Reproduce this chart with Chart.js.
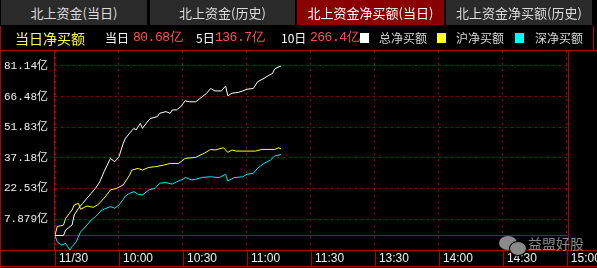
<!DOCTYPE html>
<html>
<head>
<meta charset="utf-8">
<script src="https://cdn.jsdelivr.net/npm/chart.js@4/dist/chart.umd.min.js"></script>
<style>
  html, body { margin: 0; padding: 0; background: #000; }
  #wrap { position: relative; width: 597px; height: 268px; overflow: hidden; background: #000;
          font-family: "Noto Sans CJK SC", sans-serif; }
  canvas { position: absolute; left: 0; top: 0; }
  .tab { position: absolute; top: 0; height: 25px; line-height: 25px; text-align: center;
         background: #2a2a2a; color: #dcdcdc; font-size: 13px; }
  .tab.on { background: #8a0000; color: #fff; }
  .lg { position: absolute; top: 30px; line-height: 16px; font-size: 12px; color: #fff; white-space: nowrap; }
  .num { font-family: "Liberation Mono", monospace; font-size: 13px; letter-spacing: -0.5px; color: #ff5050; }
  .sq { position: absolute; top: 33px; width: 9px; height: 10px; }
  .wm { position: absolute; left: 528px; top: 234px; font-size: 14px; color: #8a8a8a; line-height: 18px; z-index: 2; }
  .bub { position: absolute; border-radius: 50%; background: #8a8a8a; z-index: 2; }
</style>
</head>
<body>
<div id="wrap">
  <canvas id="c" width="597" height="268"></canvas>

  <div class="tab" style="left:1px;width:146px">北上资金(当日)</div>
  <div class="tab" style="left:150px;width:145px">北上资金(历史)</div>
  <div class="tab on" style="left:297px;width:147px">北上资金净买额(当日)</div>
  <div class="tab" style="left:446px;width:146px">北上资金净买额(历史)</div>

  <div class="lg" style="left:15px;font-size:14px;color:#ffff40">当日净买额</div>
  <div class="lg" style="left:105px">当日</div>
  <div class="lg num" style="left:133px">80.68亿</div>
  <div class="lg" style="left:196px">5日</div>
  <div class="lg num" style="left:215px">136.7亿</div>
  <div class="lg" style="left:281px">10日</div>
  <div class="lg num" style="left:310px">266.4亿</div>
  <div class="sq" style="left:360px;background:#fff"></div>
  <div class="lg" style="left:379px;color:#d8d8d8">总净买额</div>
  <div class="sq" style="left:437px;background:#ffff30"></div>
  <div class="lg" style="left:456px;color:#d8d8d8">沪净买额</div>
  <div class="sq" style="left:515px;background:#00ffff"></div>
  <div class="lg" style="left:535px;color:#d8d8d8">深净买额</div>

  <div class="bub" style="left:499px;top:236px;width:18px;height:14px"></div>
  <div class="bub" style="left:509px;top:241px;width:16px;height:13px;border:1px solid #000"></div>
  <div class="wm">益盟好股</div>
</div>

<script>
// minutes since 9:30 (trading minutes) and net buy values in 亿
const totalMin = [0, 4, 5, 8, 9, 11, 13, 15, 17, 19, 21, 23, 26, 28, 30, 32, 33, 35, 37, 38,
  40, 41, 44, 45, 48, 49, 52, 54, 55, 57, 59, 61, 63, 66, 69, 71, 73, 75, 78, 80,
  81, 83, 86, 88, 90, 93, 95, 98, 100, 102, 103, 105, 106];
const totalVal = [0, 0, 2.6, 5.0, 9.8, 13.0, 15.4, 17.8, 20.2, 22.6, 25.7, 30.5, 36.9, 35.3, 37.7, 44.1, 46.5, 49.0, 51.3, 50.5,
  53.7, 51.3, 55.3, 56.1, 56.9, 58.5, 59.3, 58.5, 60.1, 60.1, 61.7, 64.5, 64.0, 64.0, 66.4, 68.0, 70.4, 69.2, 69.2, 71.6,
  66.9, 68.1, 68.5, 69.2, 70.0, 70.4, 73.6, 75.2, 76.5, 77.6, 79.7, 80.8, 81.1];

const huMin = [0, 1, 4, 5, 8, 9, 11, 12, 15, 18, 20, 23, 26, 29, 32, 35, 36, 39, 41, 44,
  47, 51, 54, 58, 61, 66, 70, 73, 75, 79, 81, 83, 85, 94, 97, 103, 105, 106];
const huVal = [0, 4.2, 5.0, 8.2, 12.2, 14.6, 15.4, 12.5, 14.1, 13.5, 14.6, 17.8, 21.8, 22.6, 24.2, 28.9, 31.3, 32.1, 31.3, 32.6,
  32.9, 33.7, 34.5, 34.5, 36.9, 37.4, 39.4, 41.2, 40.9, 42.0, 39.8, 40.9, 40.4, 40.4, 41.2, 41.2, 42.0, 41.4];

const shenMin = [0, 1, 3, 5, 6, 7, 8, 10, 12, 15, 17, 19, 22, 24, 26, 28, 30, 32, 33, 35,
  37, 39, 41, 44, 47, 49, 52, 55, 57, 60, 61, 64, 66, 69, 73, 77, 80, 81, 84, 88,
  90, 93, 95, 98, 101, 103, 106];
const shenVal = [0, -3.0, -4.6, -3.8, -5.4, -7.0, -5.4, -3.0, 1.8, 5.0, 7.4, 9.0, 12.2, 13.0, 13.8, 13.0, 14.6, 17.3, 18.9, 20.2,
  21.0, 19.7, 19.4, 21.8, 22.6, 25.0, 25.3, 24.6, 25.7, 26.9, 27.8, 26.6, 26.9, 27.8, 28.1, 27.7, 29.3, 26.1, 27.7, 28.1,
  29.3, 29.8, 32.2, 34.5, 36.1, 38.0, 38.8];

const xTickValues = [0, 30, 60, 90, 120, 150, 180, 210, 240];
const xTickLabels = ['11/30', '10:00', '10:30', '11:00', '11:30', '13:30', '14:00', '14:30', '15:00'];
const yTickValues = [7.879, 22.53, 37.18, 51.83, 66.48, 81.14];
const yTickLabels = ['7.879亿', '22.53亿', '37.18亿', '51.83亿', '66.48亿', '81.14亿'];

const FRAME = '#b00000';
const DOT = '#a00000';

const toPoints = (xs, ys) => xs.map((m, i) => ({x: m, y: ys[i]}));

// solid zero line, outer frame and the separators of the time row
const framePlugin = {
    id: 'frame',
    beforeDatasetsDraw(chart) {
        const {ctx, chartArea: a, scales: {y}} = chart;
        const y0 = Math.round(y.getPixelForValue(0)) + 0.5;
        ctx.save();
        ctx.strokeStyle = FRAME;
        ctx.lineWidth = 1;
        ctx.beginPath();
        ctx.moveTo(a.left, y0);
        ctx.lineTo(a.right, y0);
        ctx.stroke();
        ctx.restore();
    },
    afterDraw(chart) {
        const {ctx, chartArea: a, scales: {x}} = chart;
        const W = chart.width, H = chart.height;
        const line = (x1, y1, x2, y2) => { ctx.moveTo(x1, y1); ctx.lineTo(x2, y2); };
        ctx.save();
        ctx.strokeStyle = FRAME;
        ctx.lineWidth = 1;
        ctx.beginPath();
        line(0, a.top - 0.5, W, a.top - 0.5);
        line(0.5, 26, 0.5, H);
        line(593.5, 26, 593.5, a.top);
        line(a.left - 0.5, a.top, a.left - 0.5, a.bottom);
        line(a.right - 0.5, a.top, a.right - 0.5, a.bottom);
        line(0, a.bottom + 0.5, W, a.bottom + 0.5);
        line(0, H - 1.5, W, H - 1.5);
        xTickValues.forEach(v => {
            const px = Math.round(x.getPixelForValue(v)) + 0.5;
            line(px, a.bottom, px, H - 1);
        });
        ctx.stroke();
        ctx.restore();
    }
};

new Chart(document.getElementById('c'), {
    type: 'line',
    data: {
        datasets: [
            { label: '深净买额', data: toPoints(shenMin, shenVal), borderColor: '#00e8f0' },
            { label: '沪净买额', data: toPoints(huMin, huVal), borderColor: '#ffff30' },
            { label: '总净买额', data: toPoints(totalMin, totalVal), borderColor: '#ffffff' }
        ].map(d => Object.assign(d, { borderWidth: 1, pointRadius: 0, tension: 0, fill: false }))
    },
    options: {
        responsive: false,
        animation: false,
        devicePixelRatio: 1,
        layout: { padding: { top: 51, right: 28, left: 0, bottom: 0 } },
        plugins: { legend: { display: false }, tooltip: { enabled: false } },
        scales: {
            x: {
                type: 'linear',
                min: 0,
                max: 241,
                afterBuildTicks: s => { s.ticks = xTickValues.map(v => ({value: v})); },
                afterFit: s => { s.height = 18; s.paddingLeft = 0; s.paddingRight = 0; },
                grid: { color: DOT, lineWidth: 1, drawTicks: false },
                border: { display: false, dash: [2, 4] },
                ticks: {
                    autoSkip: false,
                    maxRotation: 0,
                    align: 'start',
                    labelOffset: 4,
                    padding: 1,
                    color: '#f0f0e8',
                    font: { family: 'Liberation Sans', size: 12 },
                    callback: (v, i) => xTickLabels[i]
                }
            },
            y: {
                min: -6.96,
                max: 88.32,
                afterBuildTicks: s => { s.ticks = yTickValues.map(v => ({value: v})); },
                afterFit: s => { s.width = 55; s.paddingTop = 0; s.paddingBottom = 0; },
                grid: { color: DOT, lineWidth: 1, drawTicks: false },
                border: { display: false, dash: [2, 4] },
                ticks: {
                    padding: 7,
                    color: '#f0f0f0',
                    font: { family: "'Liberation Mono', 'Noto Sans CJK SC'", size: 11 },
                    callback: (v, i) => yTickLabels[i]
                }
            }
        }
    },
    plugins: [framePlugin]
});
</script>
</body>
</html>
